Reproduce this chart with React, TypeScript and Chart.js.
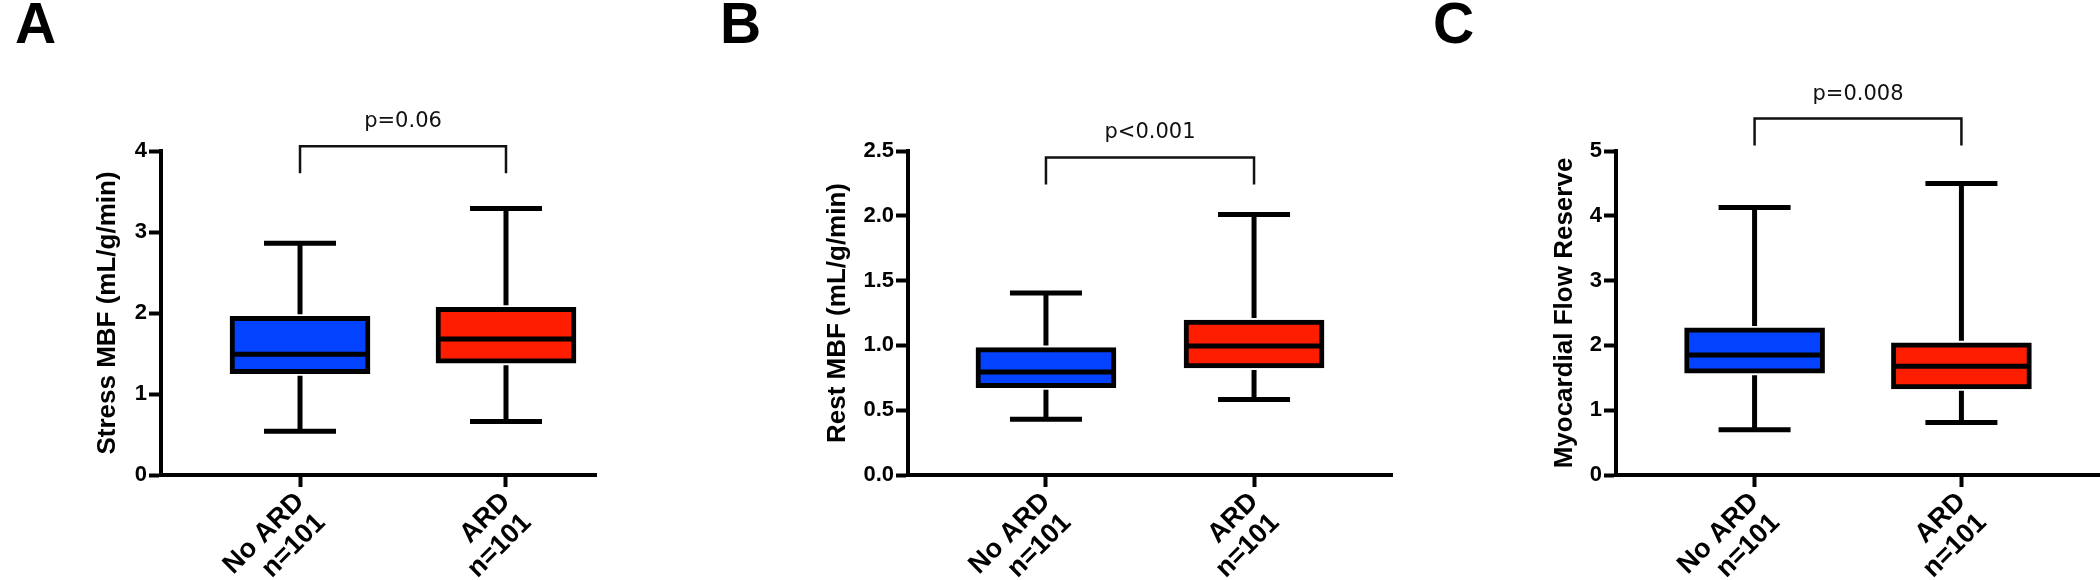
import React, { useEffect, useRef } from 'react';
import { Chart, registerables } from 'chart.js';

Chart.register(...registerables);

// ---------- data ----------
const groups = ['No ARD', 'ARD'];
const groupN = ['n=101', 'n=101'];
const panelLetters = ['A', 'B', 'C'];
const yTitles = ['Stress MBF (mL/g/min)', 'Rest MBF (mL/g/min)', 'Myocardial Flow Reserve'];
const pLabels = ['p=0.06', 'p<0.001', 'p=0.008'];
const yMaxes = [4, 2.5, 5];
const ySteps = [1, 0.5, 1];
const yDecimals = [0, 1, 0];

// [min, q1, median, q3, max]
const stressNoARD = [0.54, 1.25, 1.49, 1.96, 2.86];
const stressARD = [0.66, 1.38, 1.68, 2.07, 3.29];
const restNoARD = [0.43, 0.674, 0.794, 0.983, 1.405];
const restARD = [0.582, 0.826, 0.995, 1.196, 2.01];
const mfrNoARD = [0.7, 1.57, 1.85, 2.27, 4.13];
const mfrARD = [0.81, 1.33, 1.68, 2.04, 4.5];
const bracketLevels = [4.06, 2.45, 5.5];

const panelStats = [
  [stressNoARD, stressARD],
  [restNoARD, restARD],
  [mfrNoARD, mfrARD],
];

// ---------- styling / layout ----------
const boxColors = ['#0343FF', '#FF1D00'];
const layouts = [
  { left: 0, axisLeft: 161, padRight: 104, xMin: -0.675, xMax: 1.437, titleCenter: 108, letterX: 15 },
  { left: 700, axisLeft: 208, padRight: 8, xMin: -0.663, xMax: 1.663, titleCenter: 137.5, letterX: 20 },
  { left: 1400, axisLeft: 216, padRight: 0, xMin: -0.67, xMax: 1.67, titleCenter: 165, letterX: 33 },
];
const CANVAS_W = 700;
const CANVAS_H = 580;
const AREA_TOP = 151;
const AREA_BOTTOM = 475;
const TITLE_FONT = 26;
const TITLE_LH = 1.2;

const extrasPlugin = {
  id: 'boxExtras',
  afterDatasetsDraw(chart: any, _args: any, opts: any) {
    const { ctx } = chart;
    const x = chart.scales.x;
    const y = chart.scales.y;
    const stats: number[][] = opts.stats;
    ctx.save();
    ctx.strokeStyle = '#000';
    ctx.lineWidth = 5;
    ctx.lineCap = 'butt';
    stats.forEach((s, i) => {
      const cx = x.getPixelForValue(i);
      const [mn, q1, med, q3, mx] = s.map((v) => y.getPixelForValue(v));
      const bar = chart.getDatasetMeta(i).data[0];
      const half = bar ? bar.width / 2 : 70;
      const cap = opts.capHalf;
      ctx.beginPath();
      ctx.moveTo(cx, q3 - 2);
      ctx.lineTo(cx, mx);
      ctx.moveTo(cx - cap, mx);
      ctx.lineTo(cx + cap, mx);
      ctx.moveTo(cx, q1 + 2);
      ctx.lineTo(cx, mn);
      ctx.moveTo(cx - cap, mn);
      ctx.lineTo(cx + cap, mn);
      ctx.moveTo(cx - half + 2, med);
      ctx.lineTo(cx + half - 2, med);
      ctx.stroke();
    });
    ctx.restore();
  },
  afterDraw(chart: any, _args: any, opts: any) {
    const { ctx } = chart;
    const x = chart.scales.x;
    const y = chart.scales.y;
    ctx.save();
    // panel letter
    ctx.fillStyle = '#000';
    ctx.font = 'bold 57px "Liberation Sans"';
    ctx.textBaseline = 'alphabetic';
    ctx.textAlign = 'left';
    ctx.fillText(opts.letter, opts.letterX, 43);
    ctx.restore();

    // significance bracket
    ctx.save();
    const x0 = x.getPixelForValue(0);
    const x1 = x.getPixelForValue(1);
    const yb = y.getPixelForValue(opts.bracket);
    ctx.strokeStyle = '#111';
    ctx.lineWidth = 2.5;
    ctx.beginPath();
    ctx.moveTo(x0, yb + 27);
    ctx.lineTo(x0, yb);
    ctx.lineTo(x1, yb);
    ctx.lineTo(x1, yb + 27);
    ctx.stroke();
    ctx.fillStyle = '#111';
    ctx.font = '21px "DejaVu Sans"';
    ctx.textAlign = 'center';
    ctx.textBaseline = 'alphabetic';
    ctx.fillText(opts.pLabel, (x0 + x1) / 2, yb - 19);
    ctx.restore();
  },
};

function Panel({ idx }: { idx: number }) {
  const ref = useRef<HTMLCanvasElement | null>(null);
  const lay = layouts[idx];
  useEffect(() => {
    if (!ref.current) return;
    const stats = panelStats[idx];
    const titlePadTop = lay.titleCenter - (TITLE_FONT * TITLE_LH) / 2;
    const chart = new Chart(ref.current, {
      type: 'bar',
      data: {
        datasets: stats.map((s, i) => ({
          label: groups[i],
          data: [{ x: i, y: [s[1], s[3]] }],
          backgroundColor: boxColors[i],
          borderColor: '#000',
          borderWidth: 5,
          borderSkipped: false,
          barThickness: 140,
          grouped: false,
        })) as any,
      },
      options: {
        animation: false,
        responsive: false,
        events: [],
        layout: { padding: { top: AREA_TOP, left: 0, right: lay.padRight, bottom: 0 } },
        plugins: {
          legend: { display: false },
          tooltip: { enabled: false },
          boxExtras: {
            stats,
            capHalf: 36,
            letter: panelLetters[idx],
            letterX: lay.letterX,
            bracket: bracketLevels[idx],
            pLabel: pLabels[idx],
          },
        } as any,
        scales: {
          x: {
            type: 'linear',
            min: lay.xMin,
            max: lay.xMax,
            offset: false,
            afterBuildTicks: (scale: any) => {
              scale.ticks = [{ value: 0 }, { value: 1 }];
            },
            afterFit: (scale: any) => {
              scale.height = CANVAS_H - AREA_BOTTOM;
            },
            grid: {
              offset: false,
              drawOnChartArea: false,
              drawTicks: true,
              tickLength: 12,
              tickWidth: 4,
              tickColor: '#000',
            },
            border: { display: true, width: 4, color: '#000' },
            ticks: {
              autoSkip: false,
              minRotation: 45,
              maxRotation: 45,
              padding: 0,
              color: '#000',
              font: { family: '"Liberation Sans"', weight: 'bold', size: 27, lineHeight: 1.1 },
              callback: (v: any) => [groups[Number(v)], groupN[Number(v)]],
            },
          } as any,
          y: {
            type: 'linear',
            min: 0,
            max: yMaxes[idx],
            afterFit: (scale: any) => {
              scale.width = lay.axisLeft;
            },
            grid: {
              drawOnChartArea: false,
              drawTicks: true,
              tickLength: 12,
              tickWidth: 4,
              tickColor: '#000',
            },
            border: { display: true, width: 4, color: '#000' },
            ticks: {
              stepSize: ySteps[idx],
              padding: 2,
              color: '#000',
              font: { family: '"Liberation Sans"', weight: 'bold', size: 22 },
              callback: (v: any) => Number(v).toFixed(yDecimals[idx]),
            },
            title: {
              display: true,
              text: yTitles[idx],
              color: '#000',
              font: { family: '"Liberation Sans"', weight: 'bold', size: TITLE_FONT, lineHeight: TITLE_LH },
              padding: { top: titlePadTop, bottom: 0 },
            },
          } as any,
        },
      },
      plugins: [extrasPlugin as any],
    });
    return () => chart.destroy();
  }, [idx]);
  return (
    <canvas
      ref={ref}
      width={CANVAS_W}
      height={CANVAS_H}
      style={{ position: 'absolute', left: lay.left, top: 0, width: CANVAS_W, height: CANVAS_H, display: 'block' }}
    />
  );
}

export default function App() {
  return (
    <div style={{ position: 'absolute', left: 0, top: 0, width: 2100, height: 580, background: '#fff', overflow: 'hidden' }}>
      <Panel idx={0} />
      <Panel idx={1} />
      <Panel idx={2} />
    </div>
  );
}
